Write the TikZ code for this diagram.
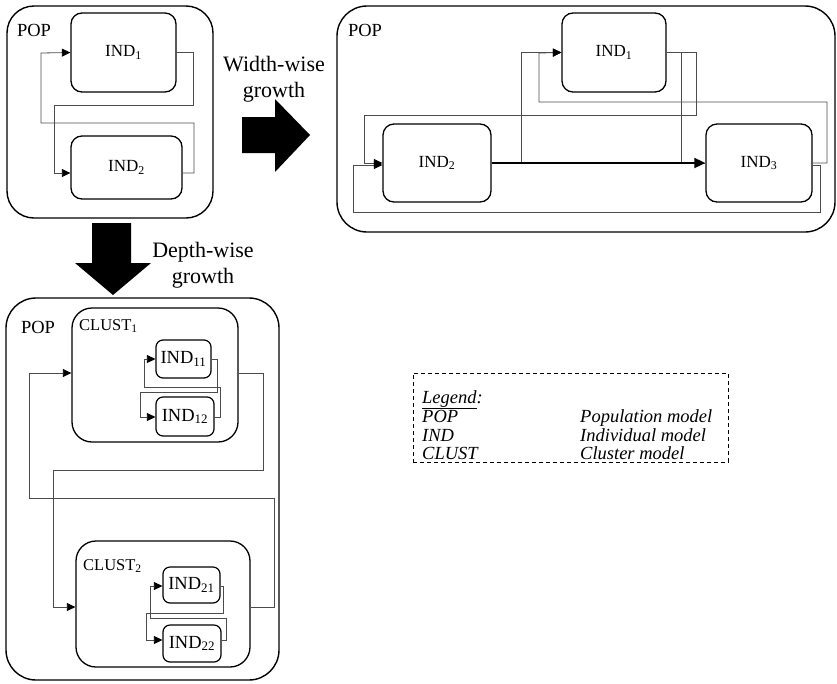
\documentclass[tikz,border=0pt]{standalone}
\usepackage{fontspec}
\setmainfont{Liberation Serif}
\usetikzlibrary{arrows.meta}

\tikzset{
  popbox/.style={draw, line width=1.4pt, rounded corners=28pt, inner sep=0pt},
  clustbox/.style={draw, line width=1.3pt, rounded corners=20pt, inner sep=0pt},
  indbox/.style={draw, line width=1.3pt, rounded corners=11pt, inner sep=0pt,
    font=\fontsize{17}{18}\selectfont},
  smallind/.style={draw, line width=1.2pt, rounded corners=7pt, inner sep=0pt,
    font=\fontsize{18.5}{20}\selectfont},
  poplabel/.style={anchor=center, inner sep=0pt, font=\fontsize{18.5}{20}\selectfont},
  clustlabel/.style={anchor=west, inner sep=0pt, font=\fontsize{16.5}{18}\selectfont},
  conn/.style={draw=black!70, line width=0.8pt},
  tip/.style={-{Triangle[length=8.5pt,width=8pt,black]}},
  mainconn/.style={draw=black, line width=1.8pt, -{Triangle[length=11pt,width=10pt]}},
  growthtext/.style={align=center, inner sep=0pt, font=\fontsize{22}{25.5}\selectfont},
  legendtext/.style={anchor=base west, inner sep=0pt, font=\fontsize{18.5}{20}\selectfont\itshape},
}

\begin{document}
\begin{tikzpicture}[x=1pt, y=-1pt]
\useasboundingbox (0,0) rectangle (837,683);

% ---------- small population: two individuals ----------
\node[popbox, minimum width=206pt, minimum height=212pt, rounded corners=27pt] (pop1) at (110,112) {};
\node[poplabel] (pop1lab) at (34,30) {POP};
\node[indbox, minimum width=105pt, minimum height=79pt] (A1) at (123.5,52.5) {IND\textsubscript{1}};
\node[indbox, minimum width=111pt, minimum height=63pt] (A2) at (126.5,167.5) {IND\textsubscript{2}};

\draw[conn, tip] (A1.east) -| (193,105) -| (54,173) -- (A2.west |- 0,173);
\draw[conn, tip] (A2.east |- 0,173) -| (194,123) -| (41,53) -- (A1.west);

% ---------- width-wise growth ----------
\fill (242,117) -- (275,117) -- (275,99) -- (310,135) -- (275,172) -- (275,153) -- (242,153) -- cycle;
\node[growthtext] (wlab) at (274,79) {Width-wise\\growth};

\node[popbox, minimum width=498pt, minimum height=226pt, rounded corners=30pt] (pop2) at (586,119) {};
\node[poplabel] (pop2lab) at (365,30) {POP};
\node[indbox, minimum width=104pt, minimum height=79pt] (B1) at (614,52.5) {IND\textsubscript{1}};
\node[indbox, minimum width=108pt, minimum height=78pt] (B2) at (437,163) {IND\textsubscript{2}};
\node[indbox, minimum width=106pt, minimum height=78pt] (B3) at (759,163) {IND\textsubscript{3}};

\coordinate (split) at (521,163);
\draw[conn, tip] (split) |- (B1.west);
\draw[conn] (B1.east) -| (681,163) -- (B3.west);
\draw[conn, tip] (B1.east) -| (696,115) -| (364,163) -- (B2.west);
\draw[conn, tip] (B3.east) -| (827,102) -| (539,53) -- (B1.west);
\draw[conn, tip] (B3.east |- 0,165) -| (820,212) -| (353,165) -- (B2.west |- 0,165);
\draw[mainconn] (B2.east) -- (B3.west);

% ---------- depth-wise growth ----------
\fill (92,223) -- (131,223) -- (131,263) -- (151,263) -- (113,295) -- (75,263) -- (92,263) -- cycle;
\node[growthtext] (dlab) at (203,265) {Depth-wise\\growth};

\node[popbox, minimum width=273pt, minimum height=382pt, rounded corners=30pt] (pop3) at (142.5,489) {};
\node[poplabel] (pop3lab) at (38,327) {POP};

\node[clustbox, minimum width=166pt, minimum height=134pt] (C1) at (155,375) {};
\node[clustlabel] (c1lab) at (79,326) {CLUST\textsubscript{1}};
\node[smallind, minimum width=55pt, minimum height=38pt] (D11) at (183.5,359) {IND\textsubscript{11}};
\node[smallind, minimum width=58pt, minimum height=39pt] (D12) at (185,416.5) {IND\textsubscript{12}};

\node[clustbox, minimum width=174pt, minimum height=126pt] (C2) at (163,604) {};
\node[clustlabel] (c2lab) at (83,566) {CLUST\textsubscript{2}};
\node[smallind, minimum width=57pt, minimum height=36pt] (D21) at (191.5,585) {IND\textsubscript{21}};
\node[smallind, minimum width=58pt, minimum height=37pt] (D22) at (192,643.5) {IND\textsubscript{22}};

\draw[conn, tip] (D11.east) -| (217,392) -| (140,417) -- (D12.west |- 0,417);
\draw[conn, tip] (D12.east |- 0,417) -| (220,387) -| (144,359) -- (D11.west);
\draw[conn, tip] (C1.east |- 0,373) -| (263,470) -| (53,607) -- (C2.west |- 0,607);
\draw[conn, tip] (C2.east |- 0,607) -| (274,498) -| (29,373) -- (C1.west |- 0,373);
\draw[conn, tip] (D21.east |- 0,586) -| (223,613) -| (146,640) -- (D22.west |- 0,640);
\draw[conn, tip] (D22.east |- 0,640) -| (226,618) -| (150,586) -- (D21.west |- 0,586);

% ---------- legend ----------
\node[draw, line width=1pt, dash pattern=on 4pt off 3pt, minimum width=315pt, minimum height=89pt, inner sep=0pt] (legend) at (570.5,417.5) {};
\node[legendtext] (lg0) at (422,403) {\underline{Legend}:};
\node[legendtext] (lg1) at (422,422) {POP};
\node[legendtext] (lg1d) at (580,422) {Population model};
\node[legendtext] (lg2) at (422,441) {IND};
\node[legendtext] (lg2d) at (580,441) {Individual model};
\node[legendtext] (lg3) at (422,459) {CLUST};
\node[legendtext] (lg3d) at (580,459) {Cluster model};
\end{tikzpicture}
\end{document}
